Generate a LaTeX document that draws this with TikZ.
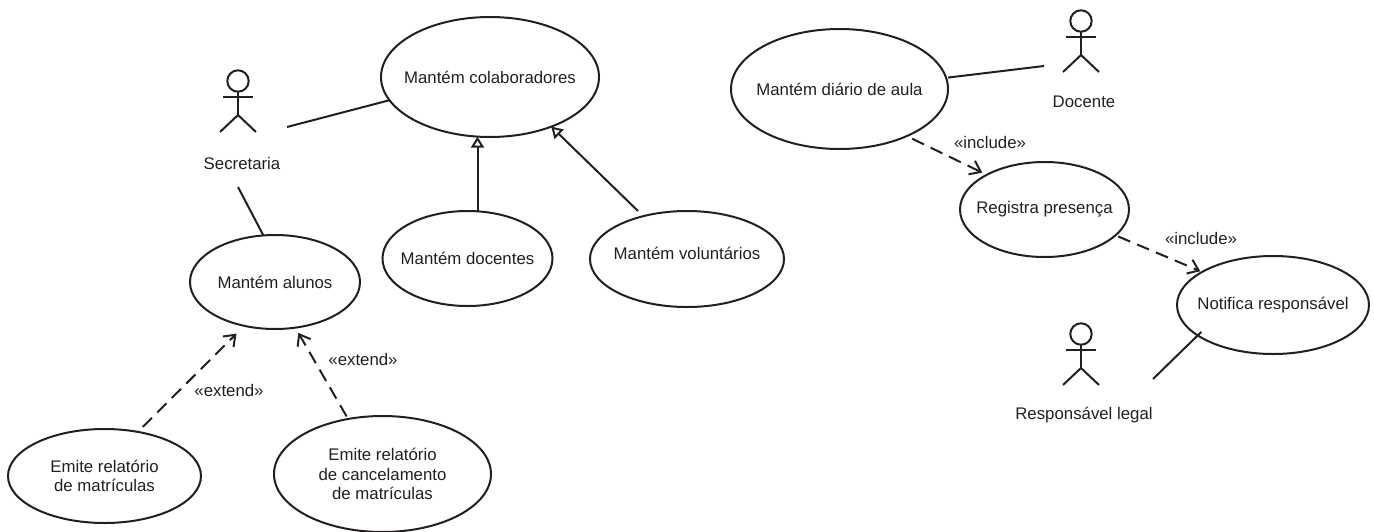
\documentclass[tikz,border=0pt]{standalone}
\usepackage{fontspec}
\setmainfont{Liberation Sans}
\usetikzlibrary{shapes.geometric,arrows.meta}
\definecolor{ink}{HTML}{231F20}

\begin{document}
\begin{tikzpicture}[x=1pt, y=-1pt, line width=2pt, draw=ink, text=ink,
	txt/.style={inner sep=0pt, align=center, font=\fontsize{16.8}{19.2}\selectfont},
	usecase/.style={ellipse, draw, txt, inner xsep=-15pt, outer sep=0pt},
	assoc/.style={line cap=butt},
	dep/.style={line width=2pt, dash pattern=on 13pt off 7.5pt, -{Straight Barb[length=10pt,width=15pt]}},
	gen/.style={line width=2pt, -{Triangle[open,length=11pt,width=13pt]}},
	actor/.pic={
		\draw (0, 0) circle (10.7);
		\draw (-15, 16) -- (15, 16);
		\draw (0, 10.7) -- (0, 34);
		\draw (-18, 51) -- (0, 34) -- (18, 51);
	}]
	\useasboundingbox (0, 0) rectangle (1374, 531);

	\node[usecase, minimum width=218pt, minimum height=120pt] (colab) at (490, 77) {Mantém colaboradores};
	\node[usecase, minimum width=170pt, minimum height=94pt] (alunos) at (275, 282) {Mantém alunos};
	\node[usecase, minimum width=170pt, minimum height=95pt] (docentes) at (467.5, 258.5) {Mantém docentes};
	\node[usecase, minimum width=194pt, minimum height=96pt, text depth=12pt] (volunt) at (687, 259) {Mantém voluntários};
	\node[usecase, minimum width=193pt, minimum height=94pt] (matric) at (104.5, 476) {Emite relatório \\ de matrículas};
	\node[usecase, minimum width=217pt, minimum height=116pt] (cancel) at (382.5, 474) {Emite relatório \\ de cancelamento \\ de matrículas};
	\node[usecase, minimum width=217pt, minimum height=120pt] (diario) at (839.5, 89) {Mantém diário de aula};
	\node[usecase, minimum width=169pt, minimum height=95pt] (presenca) at (1044.5, 209.5) {Registra presença};
	\node[usecase, minimum width=192pt, minimum height=98pt] (notifica) at (1273, 305) {Notifica responsável};

	\pic at (238, 81) {actor};
	\pic at (1081, 21) {actor};
	\pic at (1081, 334) {actor};
	\node[txt] (secretaria) at (242, 163) {Secretaria};
	\node[txt] (docente) at (1084, 102) {Docente};
	\node[txt] (responsavel) at (1084, 415) {Responsável legal};

	\coordinate (seccolab) at (287, 127);
	\coordinate (secalunos) at (238, 187);
	\coordinate (docdiario) at (1044, 66);
	\coordinate (respnotif) at (1153, 379);
	\coordinate (volcolab) at (638, 211);

	\draw[assoc] (seccolab) to (colab.193);
	\draw[assoc] (secalunos) to (alunos.104);
	\draw[assoc, shorten <=2pt] (diario.6) to (docdiario);
	\draw[assoc, shorten <=-5pt] (notifica.202) to (respnotif);

	\draw[gen] (docentes.78) to (docentes.78 |- colab.259);
	\draw[gen] (volcolab) to (colab.321);

	\draw[dep, shorten <=7pt, shorten >=11pt] (matric.53) to (alunos.235);
	\draw[dep, shorten <=3pt, shorten >=6pt] (cancel.122) to (alunos.294);
	\draw[dep, shorten <=6pt, shorten >=5pt] (diario.325) to (presenca.149);
	\draw[dep, shorten <=3pt, shorten >=2pt] (presenca.340) to (notifica.155);

	\node[txt] (ext1) at (229, 390) {«extend»};
	\node[txt] (ext2) at (363, 359) {«extend»};
	\node[txt] (inc1) at (990, 142) {«include»};
	\node[txt] (inc2) at (1201, 238) {«include»};
\end{tikzpicture}
\end{document}
